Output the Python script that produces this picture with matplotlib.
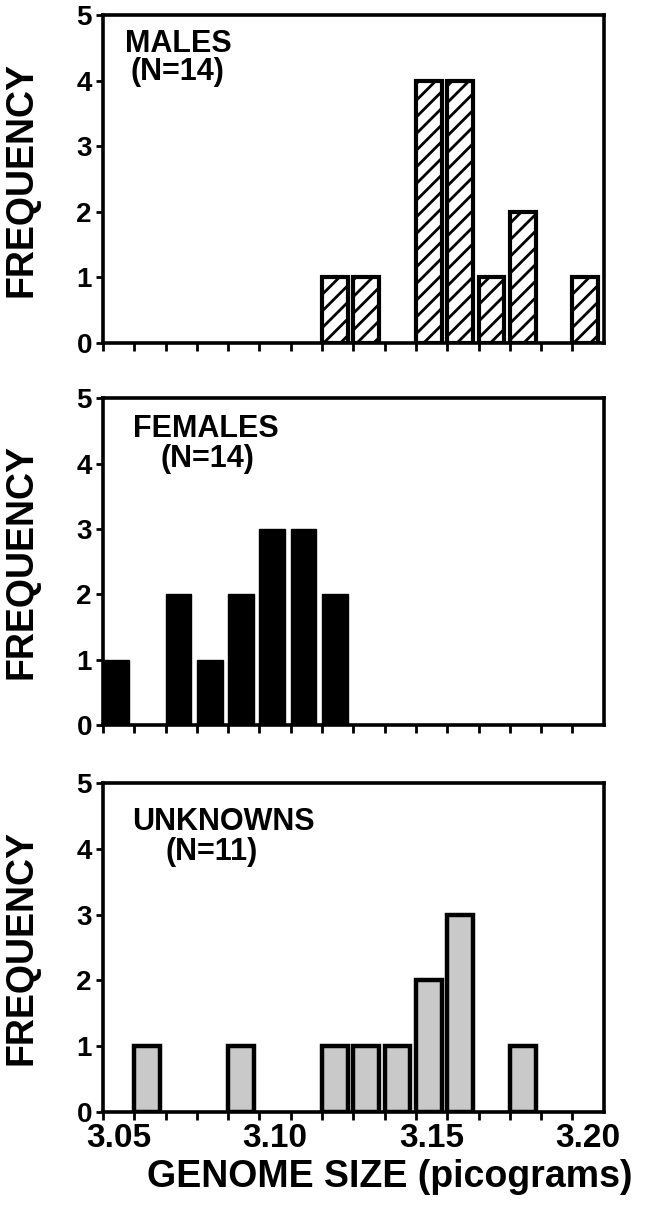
import numpy as np
import matplotlib
matplotlib.use("Agg")
import matplotlib.pyplot as plt

plt.rcParams['font.family'] = ['Liberation Sans', 'DejaVu Sans']
plt.rcParams['font.weight'] = 'bold'
plt.rcParams['hatch.linewidth'] = 2.0

# genome size bins (picograms), bar = count in the bin centred there
males_x = [3.12, 3.13, 3.15, 3.16, 3.17, 3.18, 3.20]
males_n = [1, 1, 4, 4, 1, 2, 1]
females_x = [3.05, 3.07, 3.08, 3.09, 3.10, 3.11, 3.12]
females_n = [1, 2, 1, 2, 3, 3, 2]
unknown_x = [3.06, 3.09, 3.12, 3.13, 3.14, 3.15, 3.16, 3.18]
unknown_n = [1, 1, 1, 1, 1, 2, 3, 1]

panel_names = ['MALES', 'FEMALES', 'UNKNOWNS']
panel_counts = ['(N=14)', '(N=14)', '(N=11)']
tick_labels = ['3.05', '3.10', '3.15', '3.20']
bin_w = 0.01

fig = plt.figure(figsize=(6.52, 12.10), dpi=100)
left, width = 0.158, 0.768
boxes = [(0.7165, 0.271), (0.4008, 0.270), (0.081, 0.272)]
axes = [fig.add_axes([left, b, width, h]) for b, h in boxes]

def style(ax):
    ax.set_xlim(3.045, 3.205)
    ax.set_ylim(0, 5)
    for s in ax.spines.values():
        s.set_linewidth(2.6)
    ax.set_yticks(range(6))
    ax.tick_params(axis='y', length=5, width=2, labelsize=20, pad=3)
    edges = np.round(np.arange(3.045, 3.2, 0.01), 3)
    ax.set_xticks(edges, minor=True)
    ax.tick_params(axis='x', which='minor', length=6, width=2, direction='out')
    ax.set_xticks([float(t) for t in tick_labels])
    ax.tick_params(axis='x', which='major', length=0, pad=8, labelsize=24)
    ax.set_ylabel('FREQUENCY', fontsize=27, fontweight='bold')
    ax.yaxis.set_label_coords(-0.126, 0.5)

# males: hatched
ax = axes[0]
ax.bar(np.array(males_x) - bin_w / 2, males_n, width=0.0082, align='edge',
       facecolor='white', edgecolor='black', linewidth=3.0, hatch='//')
# females: solid black
ax = axes[1]
ax.bar(np.array(females_x) - bin_w / 2, females_n, width=0.0082, align='edge',
       facecolor='black', edgecolor='black', linewidth=1.0)
# unknowns: stippled grey
ax = axes[2]
ax.bar(np.array(unknown_x) - bin_w / 2, unknown_n, width=0.0082, align='edge',
       facecolor='#c9c9c9', edgecolor='black', linewidth=3.2)

name_pos = [(0.044, 0.958), (0.06, 0.952), (0.058, 0.928)]
n_pos = [(0.054, 0.872), (0.114, 0.86), (0.124, 0.837)]
for i, ax in enumerate(axes):
    style(ax)
    ax.text(*name_pos[i], panel_names[i], transform=ax.transAxes, fontsize=22,
            fontweight='bold', ha='left', va='top')
    ax.text(*n_pos[i], panel_counts[i], transform=ax.transAxes, fontsize=22,
            fontweight='bold', ha='left', va='top')
    if i < 2:
        ax.set_xticklabels([])
    else:
        ax.set_xticklabels(tick_labels)

axes[2].set_xlabel('GENOME SIZE (picograms)', fontsize=27, fontweight='bold')
axes[2].xaxis.set_label_coords(0.573, -0.143)

fig.savefig('out.png', dpi=100)
